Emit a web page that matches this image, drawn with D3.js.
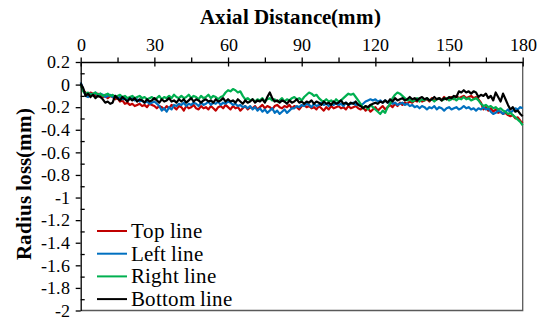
<!DOCTYPE html>
<html>
<head>
<meta charset="utf-8">
<script src="https://cdn.jsdelivr.net/npm/d3@7"></script>
<style>
  @font-face { font-family: "ChartSerif"; font-weight: normal; src: local("Liberation Serif"), local("LiberationSerif"), local("Times New Roman"); }
  @font-face { font-family: "ChartSerif"; font-weight: bold; src: local("Liberation Serif Bold"), local("LiberationSerif-Bold"), local("Times New Roman Bold"); }
  html, body { margin: 0; padding: 0; background: #fff; }
  svg text { font-family: "ChartSerif", serif; }
</style>
</head>
<body>
<svg id="chart" width="540" height="324"></svg>
<script>
// Radius loss measured along the axial direction (one sample per mm, 0-180 mm)
const distance = d3.range(0, 181);

const topLine = [0.00,
  -0.05,-0.07,-0.09,-0.07,-0.08,-0.10,-0.08,-0.09,-0.11,-0.10,
  -0.12,-0.10,-0.11,-0.13,-0.12,-0.15,-0.14,-0.17,-0.16,-0.18,
  -0.17,-0.19,-0.18,-0.17,-0.19,-0.18,-0.20,-0.17,-0.18,-0.19,
  -0.21,-0.19,-0.20,-0.22,-0.19,-0.21,-0.18,-0.20,-0.22,-0.19,
  -0.20,-0.23,-0.19,-0.21,-0.20,-0.18,-0.21,-0.22,-0.19,-0.21,
  -0.20,-0.22,-0.19,-0.21,-0.23,-0.20,-0.19,-0.21,-0.18,-0.20,
  -0.22,-0.19,-0.21,-0.20,-0.23,-0.21,-0.19,-0.22,-0.20,-0.21,
  -0.19,-0.22,-0.20,-0.18,-0.21,-0.19,-0.20,-0.22,-0.19,-0.18,
  -0.20,-0.21,-0.19,-0.20,-0.18,-0.21,-0.19,-0.20,-0.22,-0.19,
  -0.18,-0.20,-0.19,-0.21,-0.20,-0.22,-0.19,-0.21,-0.23,-0.20,
  -0.22,-0.19,-0.21,-0.20,-0.19,-0.21,-0.20,-0.22,-0.19,-0.21,
  -0.20,-0.19,-0.21,-0.22,-0.20,-0.23,-0.21,-0.24,-0.22,-0.20,
  -0.23,-0.21,-0.19,-0.22,-0.20,-0.18,-0.20,-0.17,-0.19,-0.16,
  -0.18,-0.16,-0.17,-0.15,-0.16,-0.14,-0.15,-0.13,-0.15,-0.14,
  -0.13,-0.15,-0.12,-0.14,-0.13,-0.12,-0.14,-0.11,-0.13,-0.12,
  -0.11,-0.13,-0.10,-0.12,-0.11,-0.10,-0.12,-0.11,-0.10,-0.12,
  -0.11,-0.13,-0.16,-0.22,-0.20,-0.23,-0.21,-0.24,-0.22,-0.25,
  -0.24,-0.26,-0.25,-0.27,-0.28,-0.27,-0.30,-0.29,-0.32,-0.34];

const leftLine = [0.02,
  -0.04,-0.10,-0.11,-0.08,-0.09,-0.07,-0.10,-0.08,-0.09,-0.11,
  -0.10,-0.09,-0.11,-0.10,-0.12,-0.11,-0.13,-0.12,-0.14,-0.13,
  -0.12,-0.14,-0.13,-0.15,-0.14,-0.16,-0.15,-0.17,-0.16,-0.15,
  -0.17,-0.19,-0.23,-0.21,-0.24,-0.20,-0.22,-0.18,-0.19,-0.17,
  -0.18,-0.16,-0.19,-0.17,-0.18,-0.16,-0.17,-0.19,-0.16,-0.18,
  -0.17,-0.15,-0.18,-0.16,-0.17,-0.15,-0.18,-0.16,-0.17,-0.15,
  -0.16,-0.18,-0.17,-0.19,-0.18,-0.20,-0.19,-0.21,-0.19,-0.22,
  -0.20,-0.23,-0.21,-0.24,-0.22,-0.25,-0.23,-0.21,-0.25,-0.23,
  -0.26,-0.24,-0.22,-0.25,-0.23,-0.21,-0.21,-0.19,-0.20,-0.18,
  -0.19,-0.17,-0.18,-0.20,-0.17,-0.19,-0.18,-0.16,-0.18,-0.17,
  -0.19,-0.17,-0.18,-0.16,-0.18,-0.17,-0.19,-0.16,-0.18,-0.17,
  -0.16,-0.18,-0.17,-0.19,-0.17,-0.15,-0.14,-0.13,-0.14,-0.13,
  -0.15,-0.14,-0.16,-0.14,-0.16,-0.15,-0.17,-0.16,-0.18,-0.17,
  -0.16,-0.18,-0.17,-0.19,-0.18,-0.20,-0.19,-0.21,-0.19,-0.20,
  -0.22,-0.20,-0.21,-0.19,-0.22,-0.20,-0.21,-0.23,-0.21,-0.20,
  -0.22,-0.21,-0.20,-0.22,-0.21,-0.19,-0.21,-0.20,-0.22,-0.21,
  -0.23,-0.21,-0.22,-0.20,-0.22,-0.21,-0.24,-0.26,-0.25,-0.23,
  -0.24,-0.26,-0.24,-0.22,-0.25,-0.23,-0.21,-0.22,-0.20,-0.21];

const rightLine = [0.00,
  -0.06,-0.08,-0.07,-0.09,-0.08,-0.07,-0.09,-0.08,-0.10,-0.09,
  -0.08,-0.10,-0.09,-0.11,-0.10,-0.09,-0.11,-0.10,-0.12,-0.11,
  -0.10,-0.12,-0.11,-0.10,-0.12,-0.11,-0.13,-0.12,-0.11,-0.13,
  -0.12,-0.10,-0.13,-0.11,-0.12,-0.10,-0.12,-0.09,-0.11,-0.12,
  -0.10,-0.12,-0.11,-0.09,-0.12,-0.10,-0.11,-0.13,-0.10,-0.12,
  -0.11,-0.09,-0.12,-0.10,-0.11,-0.13,-0.11,-0.10,-0.07,-0.05,
  -0.06,-0.04,-0.05,-0.07,-0.06,-0.10,-0.13,-0.12,-0.14,-0.13,
  -0.15,-0.13,-0.14,-0.12,-0.15,-0.13,-0.12,-0.14,-0.13,-0.15,
  -0.14,-0.12,-0.15,-0.13,-0.14,-0.12,-0.11,-0.13,-0.12,-0.14,
  -0.11,-0.09,-0.07,-0.08,-0.10,-0.09,-0.12,-0.14,-0.15,-0.13,
  -0.15,-0.14,-0.16,-0.13,-0.15,-0.14,-0.12,-0.10,-0.08,-0.09,
  -0.08,-0.11,-0.14,-0.17,-0.21,-0.19,-0.22,-0.18,-0.20,-0.22,
  -0.24,-0.26,-0.23,-0.25,-0.20,-0.17,-0.12,-0.09,-0.07,-0.08,
  -0.10,-0.12,-0.14,-0.13,-0.15,-0.14,-0.12,-0.15,-0.13,-0.14,
  -0.12,-0.14,-0.13,-0.15,-0.13,-0.12,-0.14,-0.13,-0.12,-0.14,
  -0.13,-0.12,-0.14,-0.12,-0.13,-0.11,-0.13,-0.12,-0.14,-0.13,
  -0.12,-0.14,-0.17,-0.19,-0.18,-0.20,-0.19,-0.21,-0.20,-0.22,
  -0.21,-0.23,-0.24,-0.26,-0.25,-0.27,-0.29,-0.31,-0.33,-0.36];

const bottomLine = [0.01,
  -0.03,-0.10,-0.08,-0.11,-0.09,-0.12,-0.10,-0.11,-0.13,-0.16,
  -0.15,-0.17,-0.16,-0.10,-0.12,-0.14,-0.11,-0.13,-0.15,-0.12,
  -0.14,-0.12,-0.15,-0.13,-0.14,-0.16,-0.13,-0.15,-0.14,-0.12,
  -0.14,-0.16,-0.13,-0.15,-0.14,-0.12,-0.15,-0.14,-0.16,-0.13,
  -0.15,-0.13,-0.16,-0.14,-0.12,-0.15,-0.13,-0.14,-0.16,-0.14,
  -0.13,-0.15,-0.14,-0.16,-0.13,-0.15,-0.14,-0.12,-0.15,-0.13,
  -0.15,-0.14,-0.16,-0.13,-0.15,-0.17,-0.14,-0.16,-0.15,-0.13,
  -0.16,-0.14,-0.15,-0.13,-0.16,-0.11,-0.07,-0.12,-0.15,-0.14,
  -0.16,-0.14,-0.15,-0.17,-0.14,-0.16,-0.15,-0.13,-0.16,-0.15,
  -0.17,-0.15,-0.16,-0.14,-0.17,-0.15,-0.16,-0.18,-0.15,-0.17,
  -0.16,-0.18,-0.15,-0.17,-0.16,-0.14,-0.17,-0.16,-0.18,-0.16,
  -0.17,-0.15,-0.18,-0.19,-0.21,-0.19,-0.20,-0.18,-0.17,-0.16,
  -0.17,-0.15,-0.16,-0.14,-0.16,-0.13,-0.15,-0.12,-0.14,-0.13,
  -0.12,-0.14,-0.13,-0.11,-0.13,-0.12,-0.14,-0.12,-0.11,-0.13,
  -0.12,-0.14,-0.13,-0.11,-0.13,-0.12,-0.14,-0.12,-0.13,-0.11,
  -0.12,-0.10,-0.11,-0.06,-0.07,-0.05,-0.07,-0.06,-0.08,-0.06,
  -0.07,-0.11,-0.09,-0.10,-0.08,-0.12,-0.10,-0.14,-0.07,-0.11,
  -0.15,-0.08,-0.13,-0.18,-0.22,-0.20,-0.24,-0.23,-0.26,-0.28];

const seriesNames = ["Top line", "Left line", "Right line", "Bottom line"];
const seriesColors = ["#C00000", "#0070C0", "#00B050", "#000000"];
const seriesValues = [topLine, leftLine, rightLine, bottomLine];

const xTicks = [0, 30, 60, 90, 120, 150, 180];
const xMinorTicks = [15, 45, 75, 105, 135, 165];
const yTicks = [0.2, 0, -0.2, -0.4, -0.6, -0.8, -1, -1.2, -1.4, -1.6, -1.8, -2];
const yMinorTicks = [0.1, -0.1, -0.3, -0.5, -0.7, -0.9, -1.1, -1.3, -1.5, -1.7, -1.9];

const svg = d3.select("#chart");
const plot = { left: 80.7, right: 522.7, top: 62, bottom: 310.5 };

const x = d3.scaleLinear().domain([0, 180]).range([plot.left, plot.right]);
const y = d3.scaleLinear().domain([0.2, -2]).range([plot.top, plot.bottom]);

// axis titles
svg.append("text")
  .attr("x", 290).attr("y", 24)
  .attr("text-anchor", "middle")
  .style("font-size", "21px").style("font-weight", "bold")
  .text("Axial Distance(mm)");

svg.append("text")
  .attr("transform", "translate(31,184) rotate(-90)")
  .attr("text-anchor", "middle")
  .style("font-size", "21px").style("font-weight", "bold")
  .text("Radius loss(mm)");

// plot-area frame (right and bottom edges)
svg.append("path")
  .attr("d", `M${plot.right},${plot.top}V${plot.bottom}H${plot.left}`)
  .attr("fill", "none").attr("stroke", "#595959").attr("stroke-width", 1.3);

// series
const line = d3.line().x((d, i) => x(distance[i])).y(d => y(d));
seriesValues.forEach((vals, k) => {
  svg.append("path")
    .datum(vals)
    .attr("d", line)
    .attr("fill", "none")
    .attr("stroke", seriesColors[k])
    .attr("stroke-width", 2.2)
    .attr("stroke-linejoin", "round");
});

const fmt = v => (v === 0 ? "0" : String(v));

// top axis with minor ticks
const xMinor = svg.append("g").attr("transform", `translate(0,${plot.top})`)
  .call(d3.axisTop(x).tickValues(xMinorTicks).tickSize(4.5).tickFormat(""));
xMinor.select(".domain").remove();

const xAxis = svg.append("g").attr("transform", `translate(0,${plot.top})`)
  .call(d3.axisTop(x).tickValues(xTicks).tickSize(4.5).tickSizeOuter(0).tickPadding(7).tickFormat(fmt));
xAxis.selectAll(".tick line").attr("y2", -4.5).attr("y1", 4.5);

// left axis with minor ticks
const yMinor = svg.append("g").attr("transform", `translate(${plot.left},0)`)
  .call(d3.axisRight(y).tickValues(yMinorTicks).tickSize(4).tickFormat(""));
yMinor.select(".domain").remove();

const yAxis = svg.append("g").attr("transform", `translate(${plot.left},0)`)
  .call(d3.axisLeft(y).tickValues(yTicks).tickSize(5).tickSizeOuter(0).tickPadding(6).tickFormat(fmt));

svg.selectAll("g").attr("font-family", null).attr("font-size", null);
svg.selectAll(".domain, .tick line").attr("stroke", "#000").attr("stroke-width", 1.3);
svg.selectAll(".tick text")
  .attr("fill", "#000")
  .style("font-size", "18px");

// legend
seriesNames.forEach((name, k) => {
  const ly = 231 + k * 22.7;
  svg.append("line")
    .attr("x1", 97).attr("x2", 127).attr("y1", ly).attr("y2", ly)
    .attr("stroke", seriesColors[k]).attr("stroke-width", 2);
  svg.append("text")
    .attr("x", 131).attr("y", ly + 7)
    .style("font-size", "21px")
    .text(name);
});
</script>
</body>
</html>
